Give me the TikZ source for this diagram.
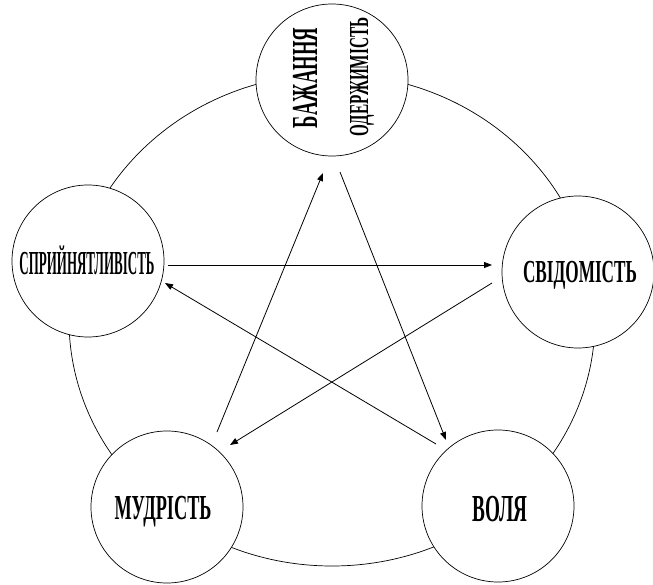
\documentclass[tikz,border=0pt]{standalone}
\usepackage{fontspec}
\setmainfont{Liberation Serif}
\usepackage{graphicx}
\usetikzlibrary{arrows.meta,calc}
\newcommand{\fitlbl}[3]{\resizebox{#1}{#2}{\smash{#3}\vphantom{H}}}
\begin{document}
\begin{tikzpicture}[x=1pt,y=-1pt,
  bubble/.style={circle,draw,line width=0.7pt,fill=white,minimum size=152pt,inner sep=0pt},
  lbl/.style={inner sep=0pt,font=\bfseries},
  arr/.style={-{Triangle[length=8pt,width=6pt]},line width=0.8pt},
  ring/.style={line width=0.7pt}]
\useasboundingbox (0,0) rectangle (653,585);
\coordinate (O) at (332,320);
\draw[ring] (O) ellipse [x radius=263pt, y radius=246pt];
\node[bubble] (T) at (332,80) {};
\node[bubble] (L) at (88,261) {};
\node[bubble] (R) at (578,272) {};
\node[bubble] (BL) at (167,507) {};
\node[bubble] (BR) at (498,506) {};
\node[lbl,rotate=90] (t1) at (305,78) {\fitlbl{100pt}{24pt}{БАЖАННЯ}};
\node[lbl,rotate=90] (t2) at (359,77) {\fitlbl{119pt}{18pt}{ОДЕРЖИМІСТЬ}};
\node[lbl] (l1) at (87,263) {\fitlbl{135pt}{22pt}{СПРИЙНЯТЛИВІСТЬ}};
\node[lbl] (r1) at (580,272) {\fitlbl{114pt}{21pt}{СВІДОМІСТЬ}};
\node[lbl] (bl1) at (163,508) {\fitlbl{97pt}{23pt}{МУДРІСТЬ}};
\node[lbl] (br1) at (500,509) {\fitlbl{55pt}{25pt}{ВОЛЯ}};
\draw[arr] ($(L)+(80,4)$) -- ($(R)+(-86,-7)$);
\draw[arr] ($(R)+(-86,11)$) -- ($(BL)+(63,-62)$);
\draw[arr] ($(BL)+(50,-75)$) -- ($(T)+(-9,93)$);
\draw[arr] ($(T)+(8,92)$) -- ($(BR)+(-52,-66)$);
\draw[arr] ($(BR)+(-62,-62)$) -- ($(L)+(77,22)$);
\end{tikzpicture}
\end{document}
